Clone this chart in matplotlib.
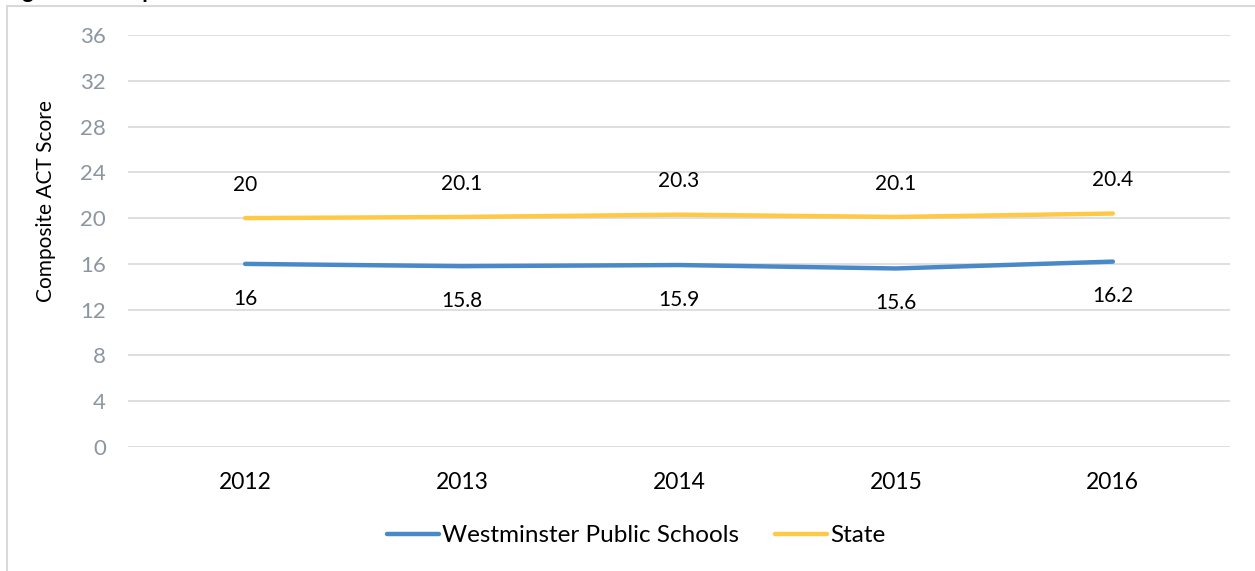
import matplotlib.pyplot as plt
from matplotlib.patches import Rectangle

years = ['2012', '2013', '2014', '2015', '2016']
westminster = [16, 15.8, 15.9, 15.6, 16.2]
state = [20, 20.1, 20.3, 20.1, 20.4]
y_ticks = [0, 4, 8, 12, 16, 20, 24, 28, 32, 36]

blue = '#4A89C8'
gold = '#FFC845'
grid_gray = '#D9D9D9'
tick_gray = '#8C96A1'

plt.rcParams['font.family'] = ['Lato', 'DejaVu Sans']

fig = plt.figure(figsize=(12.55, 5.71), dpi=100)
W, H = 1255, 571

# outer chart frame (partially cropped in the original)
fig.patches.append(Rectangle((7 / W, -0.05), 1.1, 1 - 6 / H + 0.05,
                             transform=fig.transFigure, fill=False,
                             edgecolor=grid_gray, linewidth=1.5))
# cropped title, only descenders visible
fig.text(4 / W, 1 + 1.5 / H, 'Figure 4: Composite ACT Scores', fontsize=16,
         fontweight='bold', va='baseline', ha='left')

ax = fig.add_axes([128 / W, 1 - 447 / H, (1230 - 128) / W, (447 - 35) / H])
x = list(range(len(years)))

ax.plot(x, westminster, color=blue, linewidth=3.2, solid_capstyle='round',
        label='Westminster Public Schools')
ax.plot(x, state, color=gold, linewidth=3.2, solid_capstyle='round', label='State')

for xi, v in zip(x, westminster):
    ax.annotate(f'{v:g}', (xi, v), xytext=(0, -25), textcoords='offset points',
                ha='center', va='center', fontsize=15)
for xi, v in zip(x, state):
    ax.annotate(f'{v:g}', (xi, v), xytext=(0, 24), textcoords='offset points',
                ha='center', va='center', fontsize=15)

ax.set_xlim(-0.54, 4.54)
ax.set_ylim(0, 36)
ax.set_yticks(y_ticks)
ax.set_xticks(x)
ax.set_xticklabels(years, fontsize=16.5)
ax.tick_params(axis='y', colors=tick_gray, labelsize=16, length=0, pad=16)
ax.tick_params(axis='x', length=0, pad=18)
ax.grid(axis='y', color=grid_gray, linewidth=1.2)
ax.set_axisbelow(True)
for s in ax.spines.values():
    s.set_visible(False)
ax.set_ylabel('Composite ACT Score', fontsize=15)
ax.yaxis.set_label_coords(-0.065, 0.597)

ax.legend(loc='center', bbox_to_anchor=(0.461, -0.215), ncol=2, frameon=False,
          fontsize=17.5, handlelength=2.15, handletextpad=0.1, columnspacing=1.5)

fig.savefig('out.png', dpi=100)
